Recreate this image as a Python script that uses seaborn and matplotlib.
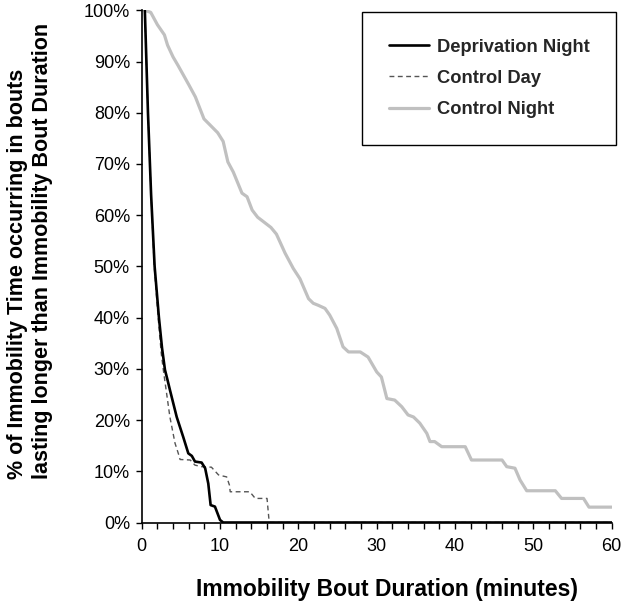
import numpy as np
import pandas as pd
import matplotlib
matplotlib.use("Agg")
import matplotlib.pyplot as plt
from matplotlib.ticker import MultipleLocator, PercentFormatter
import seaborn as sns

# ---- data (minutes, % of immobility time) ----
dep_x = [0.4, 0.8, 1.2, 1.65, 2.2, 2.6, 2.97, 3.3, 3.6, 4.47, 5.3, 5.95, 6.4, 6.8, 7.65, 8.1, 8.5, 8.8, 9.35, 10.0, 10.4, 60.0]
dep_y = [100, 80, 64, 50, 40, 34, 29.8, 27.8, 25.9, 20.6, 16.7, 13.5, 13.0, 11.9, 11.7, 10.6, 7.6, 3.4, 3.1, 0.5, 0.0, 0.0]

day_x = [0.4, 0.8, 1.2, 1.6, 2.1, 2.5, 2.76, 3.6, 4.25, 4.67, 4.9, 6.2, 6.8, 7.65, 8.9, 9.8, 10.0, 10.85, 11.2, 11.3, 13.8, 14.5, 16.0, 16.25, 16.4, 60.0]
day_y = [100, 80, 64, 50, 40, 33, 29.8, 20.6, 15.5, 13.5, 12.3, 12.2, 11.2, 10.9, 10.8, 9.3, 9.2, 8.9, 7.3, 6.0, 6.0, 4.7, 4.7, 0.5, 0.0, 0.0]

night_x = [0.4, 1.15, 2.0, 2.9, 3.3, 4.0, 4.65, 6.0, 6.85, 7.95, 8.6, 9.7, 10.4, 11.0, 11.7, 12.8, 13.45, 14.1, 14.8, 15.4,
           16.5, 17.2, 18.3, 19.35, 20.2, 21.3, 21.9, 22.55, 23.4, 24.0, 24.9, 25.7, 26.4, 27.9, 28.9, 30.0, 30.6, 31.3,
           32.3, 33.2, 34.0, 34.7, 35.5, 36.4, 36.8, 37.4, 38.3, 41.3, 42.1, 46.0, 46.6, 47.65, 48.3, 49.15, 52.8, 53.6,
           56.4, 57.1, 60.0]
night_y = [100, 99.6, 97.2, 95.2, 93.2, 90.9, 89.2, 85.5, 83.1, 78.8, 77.8, 76.1, 74.4, 70.4, 68.4, 64.3, 63.6, 61.0, 59.6, 58.9,
           57.6, 56.3, 52.6, 49.6, 47.6, 43.7, 42.8, 42.4, 41.8, 40.5, 37.9, 34.3, 33.3, 33.3, 32.3, 29.4, 28.4, 24.2,
           23.9, 22.6, 21.0, 20.6, 19.4, 17.4, 15.8, 15.8, 14.8, 14.8, 12.2, 12.2, 10.9, 10.6, 8.3, 6.2, 6.2, 4.7,
           4.7, 3.0, 3.0]

series_names = ["Deprivation Night", "Control Day", "Control Night"]
x_ticks = [0, 10, 20, 30, 40, 50, 60]
y_ticks = [0, 10, 20, 30, 40, 50, 60, 70, 80, 90, 100]

sns.set_theme(style="ticks")
plt.rcParams['font.family'] = ['Liberation Sans', 'DejaVu Sans']

W, H = 622, 607
fig = plt.figure(figsize=(W / 100, H / 100), dpi=100)
ax = fig.add_axes([141.7 / W, 1 - 522.5 / H, (611.7 - 141.7) / W, (522.5 - 10.3) / H])

sns.lineplot(x=night_x, y=night_y, ax=ax, color="#c0c0c0", linewidth=2.3, label=series_names[2],
             estimator=None, sort=False, zorder=2)
sns.lineplot(x=day_x, y=day_y, ax=ax, color="#555555", linewidth=1.0, label=series_names[1],
             estimator=None, sort=False, zorder=3)
sns.lineplot(x=dep_x, y=dep_y, ax=ax, color="black", linewidth=1.9, label=series_names[0],
             estimator=None, sort=False, zorder=4)
ax.lines[1].set_dashes([3.5, 2.5])

ax.set_xlim(0, 60)
ax.set_ylim(0, 100)
ax.set_xticks(x_ticks)
ax.xaxis.set_minor_locator(MultipleLocator(2))
ax.set_yticks(y_ticks)
ax.yaxis.set_major_formatter(PercentFormatter(decimals=0))

for s in ["top", "right"]:
    ax.spines[s].set_visible(False)
for s in ["left", "bottom"]:
    ax.spines[s].set_color("black")
    ax.spines[s].set_linewidth(1.2)

ax.tick_params(axis="both", which="both", direction="out", length=4.5, width=1.0, color="black")
ax.tick_params(axis="both", which="major", labelsize=13, labelcolor="black")
ax.tick_params(axis="x", pad=7)
ax.tick_params(axis="y", pad=4)

ax.set_xlabel("Immobility Bout Duration (minutes)", fontsize=16.5, fontweight="bold", color="black",
              va="top")
ax.xaxis.set_label_coords((387 - 141.7) / 470, (522.5 - 578) / 512.2)
ax.set_ylabel("")
fig.text(30 / W, 1 - 479 / H,
         "% of Immobility Time occurring in bouts\nlasting longer than Immobility Bout Duration",
         rotation=90, ha="center", va="bottom", multialignment="left",
         fontsize=15.5, fontweight="bold", linespacing=1.2, color="black")

handles, labels = ax.get_legend_handles_labels()
order = [labels.index(n) for n in series_names]
leg = ax.legend([handles[i] for i in order], [labels[i] for i in order],
                loc="upper right", bbox_to_anchor=(616 / W, 1 - 12 / H), bbox_transform=fig.transFigure,
                frameon=True, fancybox=False, framealpha=1, edgecolor="black",
                prop={"weight": "bold", "size": 13.2}, borderpad=1.45, handlelength=2.2,
                handletextpad=0.4, labelspacing=0.78, borderaxespad=0)
leg.get_frame().set_linewidth(1.0)

fig.savefig("out.png", dpi=100)
